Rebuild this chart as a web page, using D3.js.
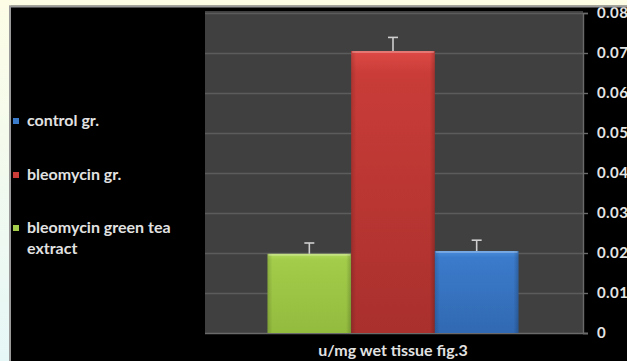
<!DOCTYPE html>
<html>
<head>
<meta charset="utf-8">
<script src="https://cdn.jsdelivr.net/npm/d3@7"></script>
<style>
  html, body { margin: 0; padding: 0; background: #fff; }
  svg { display: block; }
</style>
</head>
<body>
<svg id="chart" width="627" height="361"></svg>
<script>
// Enzyme activity per group (u/mg wet tissue)
const groups = ["bleomycin green tea extract", "bleomycin gr.", "control gr."];
const values = [0.0198, 0.0705, 0.0205];
const errors = [0.0027, 0.0034, 0.0027];
const legendOrder = ["control gr.", "bleomycin gr.", "bleomycin green tea extract"];
const legendLines = [["control gr."], ["bleomycin gr."], ["bleomycin green tea", "extract"]];
const yTicks = [0, 0.01, 0.02, 0.03, 0.04, 0.05, 0.06, 0.07, 0.08];
const axisTitle = "u/mg wet tissue fig.3";

const palette = {
  "bleomycin green tea extract": ["#b4da5c", "#a3cc4a", "#93bb3e"],
  "bleomycin gr.": ["#de4a45", "#c93c38", "#a9302d"],
  "control gr.": ["#4a8ddb", "#3b7bcb", "#3169b2"]
};

const FONT = "Lato, 'Open Sans', sans-serif";
const svg = d3.select("#chart");
const W = 627, H = 361;
const defs = svg.append("defs");

// black panel (page backdrop strips are laid over its edges at the end)
svg.append("rect").attr("width", W).attr("height", H).attr("fill", "#000");

// plot area
const plot = { left: 205, right: 583, top: 11, bottom: 333 };
const y = d3.scaleLinear().domain([0, 0.08]).range([333, 13]);
const x = d3.scaleBand().domain(groups).range([267.5, 518.5]).paddingInner(0).paddingOuter(0);

svg.append("rect")
  .attr("x", plot.left).attr("y", plot.top)
  .attr("width", plot.right - plot.left).attr("height", plot.bottom - plot.top)
  .attr("fill", "#404040");

// gridlines
svg.append("g").selectAll("line").data(yTicks.slice(1)).join("line")
  .attr("x1", plot.left).attr("x2", plot.right)
  .attr("y1", d => Math.round(y(d)) + 0.5).attr("y2", d => Math.round(y(d)) + 0.5)
  .attr("stroke", "#5c5c5c").attr("stroke-width", 1.4);

// right value axis
const axis = svg.append("g")
  .attr("transform", `translate(${plot.right},0)`)
  .call(d3.axisRight(y).tickValues(yTicks).tickSize(5).tickPadding(9)
    .tickFormat(d => d === 0 ? "0" : d3.format(".2f")(d)));
axis.select(".domain").attr("stroke", "#6a6a6a").attr("stroke-width", 1.4);
axis.selectAll(".tick line").attr("stroke", "#6a6a6a").attr("stroke-width", 1.4);
axis.selectAll("text")
  .attr("fill", "#e4e4e4")
  .style("font-family", FONT)
  .style("font-size", "15px").style("font-weight", "bold")
  .style("letter-spacing", "0.4px");

// baseline
svg.append("line")
  .attr("x1", plot.left).attr("x2", plot.right + 5)
  .attr("y1", y(0) + 0.5).attr("y2", y(0) + 0.5)
  .attr("stroke", "#6a6a6a").attr("stroke-width", 1.6);

// bar gradients
groups.forEach((g, i) => {
  const grad = defs.append("linearGradient").attr("id", "g" + i)
    .attr("x1", 0).attr("y1", 0).attr("x2", 0).attr("y2", 1);
  grad.append("stop").attr("offset", 0).attr("stop-color", palette[g][0]);
  grad.append("stop").attr("offset", 0.08).attr("stop-color", palette[g][1]);
  grad.append("stop").attr("offset", 1).attr("stop-color", palette[g][2]);
  const side = defs.append("linearGradient").attr("id", "s" + i)
    .attr("x1", 0).attr("y1", 0).attr("x2", 1).attr("y2", 0);
  side.append("stop").attr("offset", 0).attr("stop-color", "#000").attr("stop-opacity", 0.15);
  side.append("stop").attr("offset", 0.06).attr("stop-color", "#000").attr("stop-opacity", 0);
  side.append("stop").attr("offset", 0.94).attr("stop-color", "#000").attr("stop-opacity", 0);
  side.append("stop").attr("offset", 1).attr("stop-color", "#000").attr("stop-opacity", 0.2);
});

const bars = svg.append("g").selectAll("g").data(groups).join("g");
bars.append("rect")
  .attr("x", d => x(d)).attr("width", x.bandwidth())
  .attr("y", (d, i) => y(values[i])).attr("height", (d, i) => y(0) - y(values[i]))
  .attr("fill", (d, i) => `url(#g${i})`);
bars.append("rect")
  .attr("x", d => x(d)).attr("width", x.bandwidth())
  .attr("y", (d, i) => y(values[i])).attr("height", (d, i) => y(0) - y(values[i]))
  .attr("fill", (d, i) => `url(#s${i})`);
// highlighted top edge
bars.append("rect")
  .attr("x", d => x(d) + 1).attr("width", x.bandwidth() - 2)
  .attr("y", (d, i) => y(values[i])).attr("height", 2)
  .attr("fill", "#fff").attr("opacity", 0.25);

// error bars (upper whisker)
const err = svg.append("g").attr("stroke", "#cfcfcf").attr("stroke-width", 1.6);
groups.forEach((g, i) => {
  const cx = x(g) + x.bandwidth() / 2;
  err.append("line").attr("x1", cx).attr("x2", cx)
    .attr("y1", y(values[i])).attr("y2", y(values[i] + errors[i]));
  err.append("line").attr("x1", cx - 5).attr("x2", cx + 5)
    .attr("y1", y(values[i] + errors[i])).attr("y2", y(values[i] + errors[i]));
});

// legend
const legend = svg.append("g")
  .style("font-family", FONT)
  .style("font-size", "16px").style("font-weight", "bold");
const legendY = [121, 175, 228];
legendOrder.forEach((g, i) => {
  legend.append("rect").attr("x", 13).attr("y", legendY[i] - 3).attr("width", 6).attr("height", 6)
    .attr("fill", palette[g][1]);
  const t = legend.append("text").attr("x", 27).attr("y", legendY[i] + 5).attr("fill", "#e2e2e2");
  legendLines[i].forEach((line, j) => {
    t.append("tspan").attr("x", 27).attr("dy", j === 0 ? 0 : 21).text(line);
  });
});

// category axis title
svg.append("text")
  .attr("x", 393).attr("y", 356)
  .attr("text-anchor", "middle").attr("fill", "#e2e2e2")
  .style("font-family", FONT)
  .style("font-size", "16px").style("font-weight", "bold")
  .text(axisTitle);

// page backdrop strips along the top and left, with a grey rim
const bg = defs.append("linearGradient").attr("id", "bg").attr("x1", 0).attr("y1", 0).attr("x2", 0).attr("y2", 1);
bg.append("stop").attr("offset", 0).attr("stop-color", "#fdfde6");
bg.append("stop").attr("offset", 1).attr("stop-color", "#e6f7f7");
svg.append("rect").attr("x", 9).attr("y", 5.5).attr("width", W).attr("height", 2).attr("fill", "#9a9a9a");
svg.append("rect").attr("x", 9).attr("y", 5.5).attr("width", 2).attr("height", H).attr("fill", "#9a9a9a");
svg.append("rect").attr("x", 0).attr("y", 0).attr("width", W).attr("height", 5.5).attr("fill", "#fdfde6");
svg.append("rect").attr("x", 0).attr("y", 0).attr("width", 9).attr("height", H).attr("fill", "url(#bg)");
</script>
</body>
</html>
